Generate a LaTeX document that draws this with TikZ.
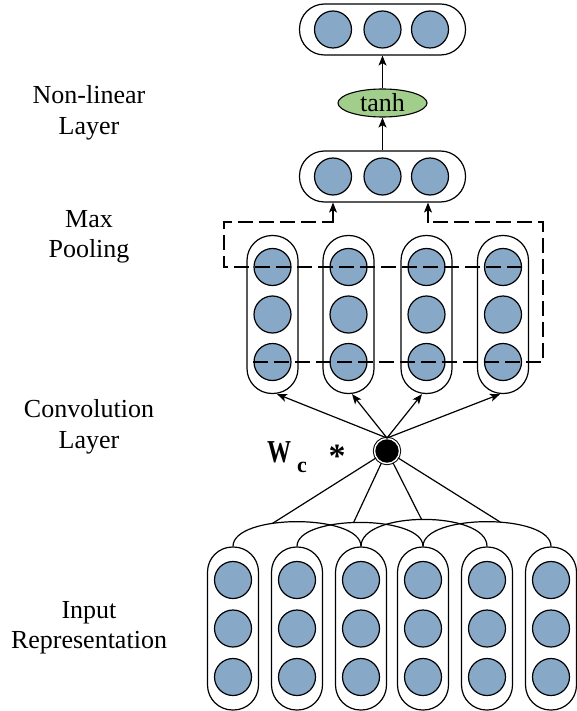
\documentclass[tikz,border=0pt]{standalone}
\usepackage{fontspec}
\setmainfont{Liberation Serif}
\usetikzlibrary{arrows.meta,calc,shapes.geometric}
\definecolor{cblue}{RGB}{136,168,200}
\definecolor{cgreen}{RGB}{162,206,140}
\begin{document}
\begin{tikzpicture}[x=1pt,y=-1pt,
  unit/.style={circle,draw=black,fill=cblue,line width=1.2pt,minimum size=37pt,inner sep=0pt},
  vpill/.style={draw=black,line width=1.2pt,rounded corners=25pt,minimum width=51pt,minimum height=158pt,inner sep=0pt},
  ipill/.style={vpill,minimum height=163pt},
  hpill/.style={draw=black,line width=1.2pt,rounded corners=25pt,minimum width=166pt,minimum height=51pt,inner sep=0pt},
  lab/.style={font=\fontsize{26}{31}\selectfont,anchor=base,inner sep=0pt},
  conn/.style={line width=1.2pt},
  arr/.style={line width=1.2pt,-{Stealth[length=10pt,width=8pt,inset=2.5pt]}},
  dashline/.style={line width=1.2pt,dash pattern=on 15pt off 6pt}
]
\useasboundingbox (0,0) rectangle (576,711);

% left labels
\node[lab] (l1a) at (89,104) {Non-linear};
\node[lab] (l1b) at (89,135) {Layer};
\node[lab] (l2a) at (89,227) {Max};
\node[lab] (l2b) at (89,257) {Pooling};
\node[lab] (l3a) at (89,417) {Convolution};
\node[lab] (l3b) at (89,448) {Layer};
\node[lab] (l4a) at (89,618) {Input};
\node[lab] (l4b) at (89,648) {Representation};

% top groups
\node[hpill] (g1) at (382.5,29.5) {};
\node[unit] (g1c1) at (333,29.5) {};
\node[unit] (g1c2) at (382.5,29.5) {};
\node[unit] (g1c3) at (430,29.5) {};
\node[hpill] (g2) at (382.5,176.5) {};
\node[unit] (g2c1) at (333,176.5) {};
\node[unit] (g2c2) at (382.5,176.5) {};
\node[unit] (g2c3) at (430,176.5) {};

\node[ellipse,draw=black,fill=cgreen,line width=1.1pt,minimum width=89pt,minimum height=28pt,inner sep=0pt,
      font=\fontsize{26}{31}\selectfont] (th) at (382.5,103) {tanh};
\draw[arr] (g2.north) -- (th.south);
\draw[arr] (th.north) -- (g1.south);

% convolution columns
\foreach \k/\x in {1/272.5,2/348.5,3/426.5,4/503}{
  \node[vpill] (c\k) at (\x,314.5) {};
  \node[unit] (c\k r1) at (\x,267) {};
  \node[unit] (c\k r2) at (\x,314.5) {};
  \node[unit] (c\k r3) at (\x,362) {};
}

% max pooling dashed paths
\coordinate (dl) at (224,222);
\coordinate (dr) at (543,222);
\draw[dashline] (c4r1.east) -- (c4r1.east -| dl) -- (dl) -- (dl -| g2c1);
\draw[arr] ($(dl -| g2c1)+(0,0.6)$) -- (g2c1 |- g2.south);
\draw[dashline] (c1r3.west) -- (c1r3.west -| dr) -- (dr) -- ($(dr -| g2c3)+(-2,0)$);
\draw[arr] ($(dr -| g2c3)+(-2,0.6)$) -- ($(g2c3 |- g2.south)+(-2,0)$);

% input columns
\foreach \k/\x in {1/233,2/297,3/361,4/423,5/487,6/551}{
  \node[ipill] (i\k) at (\x,628.5) {};
  \node[unit] (i\k r1) at (\x,580) {};
  \node[unit] (i\k r2) at (\x,628.5) {};
  \node[unit] (i\k r3) at (\x,677) {};
}

% windows (arcs)
\draw[conn] (i1.north) .. controls ($(i1.north)+(0,-33)$) and ($(i3.north)+(0,-33)$) .. (i3.north) coordinate[pos=0.37] (t1);
\draw[conn] (i2.north) .. controls ($(i2.north)+(0,-32)$) and ($(i4.north)+(0,-32)$) .. (i4.north) coordinate[pos=0.466] (t2);
\draw[conn] (i3.north) .. controls ($(i3.north)+(0,-36)$) and ($(i5.north)+(0,-36)$) .. (i5.north) coordinate[pos=0.487] (t3);
\draw[conn] (i4.north) .. controls ($(i4.north)+(0,-33)$) and ($(i6.north)+(0,-33)$) .. (i6.north) coordinate[pos=0.57] (t4);

% convolution node
\node[circle,fill=black,draw=black,double=white,double distance=1.4pt,line width=1pt,minimum size=25pt,inner sep=0pt] (w) at (387,451) {};
\foreach \t in {1,2,3,4}{ \draw[conn] (w) -- (t\t); }
\draw[arr] (w.north) -- ($(c1.south)+(4.5,0)$);
\draw[arr] (w.north) -- ($(c2.south)+(3.5,0)$);
\draw[arr] (w.north) -- ($(c3.south)+(-4.5,0)$);
\draw[arr] (w.north) -- ($(c4.south)+(-3,0)$);

% W_c *
\node[anchor=base west,inner sep=0pt,font=\fontsize{24}{28}\selectfont\bfseries] (wc) at (267,462) {\scalebox{1}[1.33]{W}};
\node[anchor=base west,inner sep=0pt,font=\fontsize{22}{26}\selectfont\bfseries] (wcs) at (297,472) {c};
\node[anchor=base,inner sep=0pt,font=\fontsize{34}{40}\selectfont\bfseries] (ast) at (337,467) {*};
\end{tikzpicture}
\end{document}
